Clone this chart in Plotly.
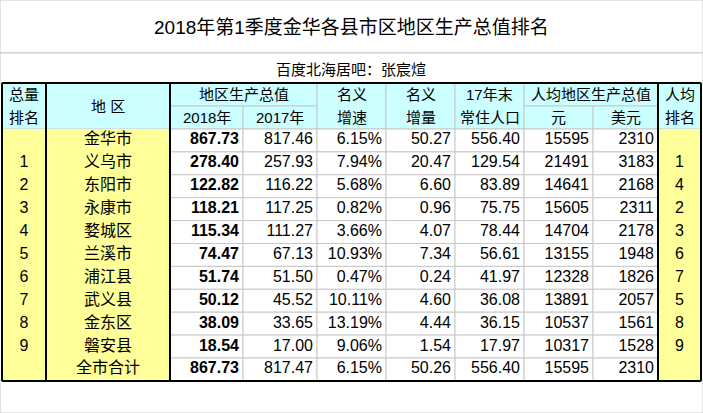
import plotly.graph_objects as go

title = "2018年第1季度金华各县市区地区生产总值排名"
subtitle = "百度北海居吧：张宸煊"

regions = ["金华市", "义乌市", "东阳市", "永康市", "婺城区", "兰溪市", "浦江县", "武义县", "金东区", "磐安县", "全市合计"]
rank_total = ["", "1", "2", "3", "4", "5", "6", "7", "8", "9", ""]
gdp_2018 = ["867.73", "278.40", "122.82", "118.21", "115.34", "74.47", "51.74", "50.12", "38.09", "18.54", "867.73"]
gdp_2017 = ["817.46", "257.93", "116.22", "117.25", "111.27", "67.13", "51.50", "45.52", "33.65", "17.00", "817.47"]
growth = ["6.15%", "7.94%", "5.68%", "0.82%", "3.66%", "10.93%", "0.47%", "10.11%", "13.19%", "9.06%", "6.15%"]
increase = ["50.27", "20.47", "6.60", "0.96", "4.07", "7.34", "0.24", "4.60", "4.44", "1.54", "50.26"]
population = ["556.40", "129.54", "83.89", "75.75", "78.44", "56.61", "41.97", "36.08", "36.15", "17.97", "556.40"]
per_cap_yuan = ["15595", "21491", "14641", "15605", "14704", "13155", "12328", "13891", "10537", "10317", "15595"]
per_cap_usd = ["2310", "3183", "2168", "2311", "2178", "1948", "1826", "2057", "1561", "1528", "2310"]
rank_per_cap = ["", "1", "4", "2", "3", "6", "7", "5", "8", "9", ""]

# layout in pixel space
col_edges = [2, 46, 170, 243, 317, 386, 455, 524, 593, 658, 701]
title_bottom, sub_bottom, head_mid, head_bottom = 53, 83, 106, 129
row_h = 22.9
n = len(regions)
table_bottom = head_bottom + row_h * n

YELLOW = "#FFFF99"
CYAN = "#CCFFFF"
GRID = "#C8C8C8"
FONT = "Liberation Sans, Noto Sans CJK SC"

shapes = []
def rect(x0, y0, x1, y1, fill, line=GRID, w=1):
    shapes.append(dict(type="rect", xref="x", yref="y", x0=x0, x1=x1, y0=y0, y1=y1,
                       fillcolor=fill, line=dict(color=line, width=w), layer="below"))
def hline(x0, x1, y, color="black", w=2):
    shapes.append(dict(type="line", xref="x", yref="y", x0=x0, x1=x1, y0=y, y1=y,
                       line=dict(color=color, width=w)))
def vline(x, y0, y1, color="black", w=2):
    shapes.append(dict(type="line", xref="x", yref="y", x0=x, x1=x, y0=y0, y1=y1,
                       line=dict(color=color, width=w)))

rect(0, 0, 703, title_bottom, "white")
rect(0, title_bottom, 703, sub_bottom, "white")
rect(0, table_bottom, 703, 413, "white")

# header cells
rect(col_edges[0], sub_bottom, col_edges[1], head_bottom, CYAN)
rect(col_edges[1], sub_bottom, col_edges[2], head_bottom, CYAN)
rect(col_edges[2], sub_bottom, col_edges[4], head_mid, CYAN)
rect(col_edges[2], head_mid, col_edges[3], head_bottom, CYAN)
rect(col_edges[3], head_mid, col_edges[4], head_bottom, CYAN)
for c in (4, 5, 6):
    rect(col_edges[c], sub_bottom, col_edges[c + 1], head_bottom, CYAN)
rect(col_edges[7], sub_bottom, col_edges[9], head_mid, CYAN)
rect(col_edges[7], head_mid, col_edges[8], head_bottom, CYAN)
rect(col_edges[8], head_mid, col_edges[9], head_bottom, CYAN)
rect(col_edges[9], sub_bottom, col_edges[10], head_bottom, CYAN)

# body
shapes.append(dict(type="rect", x0=col_edges[0], x1=col_edges[2], y0=head_bottom, y1=table_bottom,
                   fillcolor=YELLOW, line=dict(width=0), layer="below"))
shapes.append(dict(type="rect", x0=col_edges[9], x1=col_edges[10], y0=head_bottom, y1=table_bottom,
                   fillcolor=YELLOW, line=dict(width=0), layer="below"))
for i in range(n):
    y0 = head_bottom + i * row_h
    for c in range(2, 9):
        rect(col_edges[c], y0, col_edges[c + 1], y0 + row_h, "white")

# thick borders
hline(col_edges[0], col_edges[-1], sub_bottom)
hline(col_edges[0], col_edges[-1], table_bottom)
for x in (col_edges[0], col_edges[1], col_edges[2], col_edges[9], col_edges[10]):
    vline(x, sub_bottom, table_bottom)

annotations = []
def txt(x, y, s, size=15, bold=False, anchor="center"):
    annotations.append(dict(x=x, y=y, xref="x", yref="y", text=f"<b>{s}</b>" if bold else s,
                            showarrow=False, xanchor=anchor, yanchor="middle",
                            font=dict(family=FONT, size=size, color="black")))

txt(351, 27, title, size=19)
txt(351, 69, subtitle, size=15)
mid = lambda a, b: (a + b) / 2
txt(mid(col_edges[0], col_edges[1]), mid(sub_bottom, head_mid), "总量")
txt(mid(col_edges[0], col_edges[1]), mid(head_mid, head_bottom), "排名")
txt(mid(col_edges[1], col_edges[2]), mid(sub_bottom, head_bottom), "地 区")
txt(mid(col_edges[2], col_edges[4]), mid(sub_bottom, head_mid), "地区生产总值")
txt(mid(col_edges[2], col_edges[3]), mid(head_mid, head_bottom), "2018年")
txt(mid(col_edges[3], col_edges[4]), mid(head_mid, head_bottom), "2017年")
for c, (a, b) in zip((4, 5, 6), (("名义", "增速"), ("名义", "增量"), ("17年末", "常住人口"))):
    txt(mid(col_edges[c], col_edges[c + 1]), mid(sub_bottom, head_mid), a)
    txt(mid(col_edges[c], col_edges[c + 1]), mid(head_mid, head_bottom), b)
txt(mid(col_edges[7], col_edges[9]), mid(sub_bottom, head_mid), "人均地区生产总值")
txt(mid(col_edges[7], col_edges[8]), mid(head_mid, head_bottom), "元")
txt(mid(col_edges[8], col_edges[9]), mid(head_mid, head_bottom), "美元")
txt(mid(col_edges[9], col_edges[10]), mid(sub_bottom, head_mid), "人均")
txt(mid(col_edges[9], col_edges[10]), mid(head_mid, head_bottom), "排名")

cols = [rank_total, regions, gdp_2018, gdp_2017, growth, increase, population, per_cap_yuan, per_cap_usd, rank_per_cap]
fig = go.Figure()
for c, values in enumerate(cols):
    ys = [head_bottom + (i + 0.5) * row_h for i in range(n)]
    centered = c in (0, 1, 9)
    xs = [mid(col_edges[c], col_edges[c + 1]) if centered else col_edges[c + 1] - 4] * n
    texts = [f"<b>{v}</b>" if c == 2 else v for v in values]
    fig.add_trace(go.Scatter(x=xs, y=ys, mode="text", text=texts,
                             textposition="middle center" if centered else "middle left",
                             textfont=dict(family=FONT, size=16, color="black"),
                             hoverinfo="skip", showlegend=False))

fig.update_layout(width=703, height=413, margin=dict(l=0, r=0, t=0, b=0),
                  plot_bgcolor="white", paper_bgcolor="white",
                  shapes=shapes, annotations=annotations,
                  xaxis=dict(range=[0, 703], visible=False, fixedrange=True),
                  yaxis=dict(range=[413, 0], visible=False, fixedrange=True))
fig.write_html("out.html", config={"displayModeBar": False},
               post_script="document.body.style.margin='0';document.body.style.overflow='hidden';")
